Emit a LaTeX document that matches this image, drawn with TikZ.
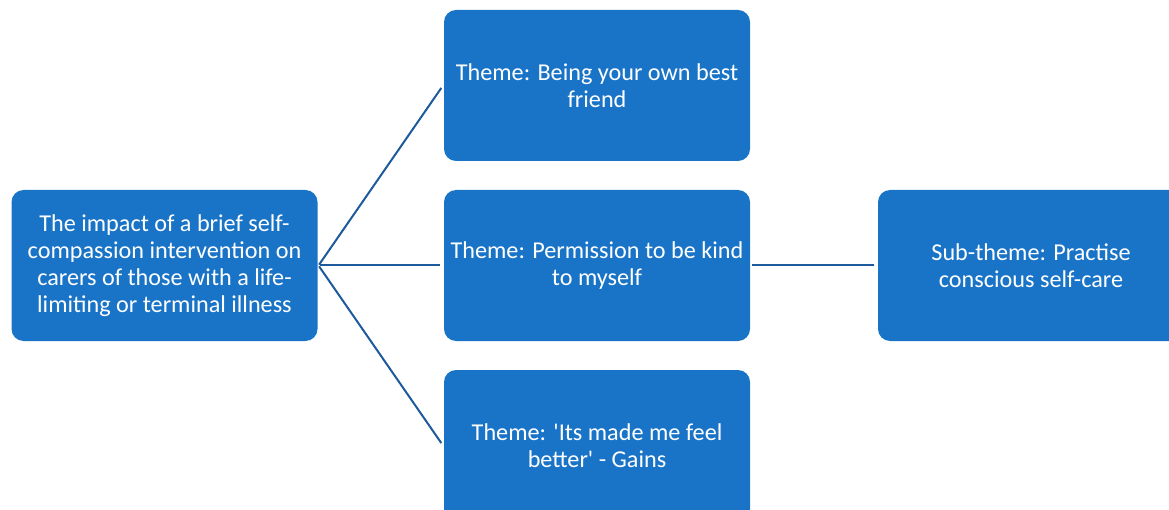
\documentclass[tikz,border=0pt]{standalone}
\usepackage{fontspec}
\setmainfont{Carlito}
\usepackage{tikz}
\usetikzlibrary{positioning}
\definecolor{boxblue}{HTML}{1974C7}
\definecolor{linkblue}{HTML}{1D5A9B}

\begin{document}
\begin{tikzpicture}[x=1pt,y=1pt,line width=2pt,
    theme/.style={fill=boxblue, text=white, rounded corners=12pt, minimum width=306pt,
      minimum height=151pt, align=center, font=\fontsize{24.2}{26.8}\selectfont},
    link/.style={draw=linkblue, shorten >=3pt, shorten <=1pt}]
  \useasboundingbox (0,0) rectangle (1169,-510);
  \node[theme] (impact) at (164.5,-265.5) {The impact of a brief self-\\compassion intervention on\\carers of those with a life-\\limiting or terminal illness};
  \node[theme] (kind) at (597,-265.5) {Theme: Permission to be kind\\to myself};
  \node[theme] (friend) [above=27pt of kind] {Theme: Being your own best\\friend};
  \node[theme] (gains) [below=27pt of kind] {Theme: \textquotesingle Its made me feel\\better\textquotesingle{} - Gains};
  \node[theme] (selfcare) [right=126pt of kind] {Sub-theme: Practise\\conscious self-care};

  \path (impact.east) edge[link] (friend.west);
  \path (impact.east) edge[link] (kind.west);
  \path (impact.east) edge[link] (gains.west);
  \path (kind.east) edge[link] (selfcare.west);
\end{tikzpicture}
\end{document}
